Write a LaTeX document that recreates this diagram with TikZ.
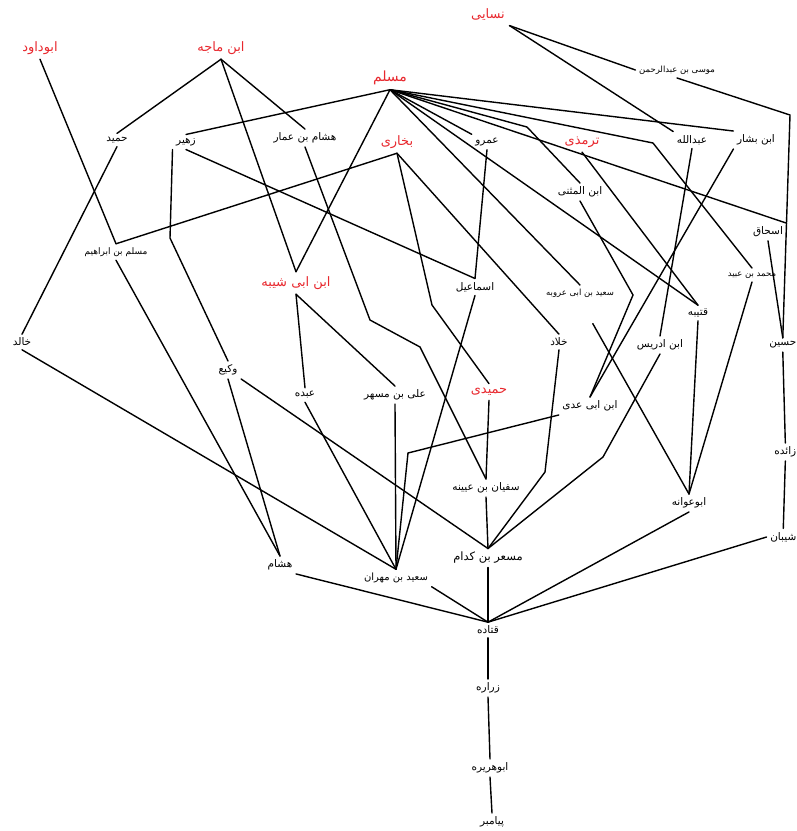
\documentclass[tikz,border=0pt]{standalone}
\usepackage{fontspec}
\usepackage{xcolor}
\usepackage{tikz}
\newfontfamily\arabicfont[Script=Arabic]{DejaVu Sans}
\TeXXeTstate=1
\definecolor{musannifred}{HTML}{E8282E}
\newcommand{\nam}[1]{\beginR#1\endR}

\begin{document}
\begin{tikzpicture}[x=1pt, y=-1pt, line width=1.4pt, line cap=round,
  rawi/.style={font=\arabicfont\fontsize{10.5}{12}\selectfont, inner sep=3pt},
  riz/.style={rawi, font=\arabicfont\fontsize{8.5}{10}\selectfont},
  musannif/.style={rawi, font=\arabicfont\fontsize{13}{15}\selectfont, text=musannifred, inner sep=4pt}]
  \useasboundingbox (0,0) rectangle (797,831);
  % Mosannefan
  \node[musannif] (nasai) at (488,15) {\nam{نسایی}};
  \node[musannif] (abudawud) at (40,48) {\nam{ابوداود}};
  \node[musannif] (ibnmajah) at (221,48) {\nam{ابن ماجه}};
  \node[musannif, font=\arabicfont\fontsize{14}{16}\selectfont] (muslim) at (390,78) {\nam{مسلم}};
  \node[musannif] (bukhari) at (397,142) {\nam{بخاری}};
  \node[musannif] (tirmidhi) at (582,142) {\nam{ترمذی}};
  \node[musannif] (ibnabishayba) at (296,283) {\nam{ابن ابی شیبه}};
  \node[musannif] (humaydi) at (489,392) {\nam{حمیدی}};
  % Raviyan
  \node[riz] (musa) at (677,70) {\nam{موسی بن عبدالرحمن}};
  \node[rawi] (humayd) at (117,140) {\nam{حمید}};
  \node[rawi] (zuhayr) at (186,142) {\nam{زهیر}};
  \node[rawi] (hishamammar) at (305,138) {\nam{هشام بن عمار}};
  \node[rawi] (amr) at (487,142) {\nam{عمرو}};
  \node[rawi] (abdullah) at (692,140) {\nam{عبدالله}};
  \node[rawi] (ibnbashshar) at (756,140) {\nam{ابن بشار}};
  \node[rawi] (ibnmuthanna) at (580,192) {\nam{ابن المثنی}};
  \node[riz, font=\arabicfont\fontsize{9}{11}\selectfont] (muslimibrahim) at (116,252) {\nam{مسلم بن ابراهیم}};
  \node[rawi] (ishaq) at (768,232) {\nam{اسحاق}};
  \node[riz] (muhammadubayd) at (752,275) {\nam{محمد بن عبید}};
  \node[rawi] (ismail) at (475,287) {\nam{اسماعیل}};
  \node[riz] (saidarubah) at (580,293) {\nam{سعید بن ابی عروبه}};
  \node[rawi] (qutayba) at (698,313) {\nam{قتیبه}};
  \node[rawi] (khalid) at (22,342) {\nam{خالد}};
  \node[rawi] (khallad) at (559,342) {\nam{خلاد}};
  \node[rawi] (ibnidris) at (660,345) {\nam{ابن ادریس}};
  \node[rawi, anchor=east] (husayn) at (800,345) {\nam{حسین}};
  \node[rawi] (waki) at (228,370) {\nam{وکیع}};
  \node[rawi] (abda) at (305,395) {\nam{عبده}};
  \node[rawi] (alimushir) at (395,395) {\nam{علی بن مسهر}};
  \node[rawi] (ibnabiadi) at (590,406) {\nam{ابن ابی عدی}};
  \node[rawi, anchor=east] (zaida) at (800,452) {\nam{زائده}};
  \node[rawi] (sufyan) at (486,488) {\nam{سفیان بن عیینه}};
  \node[rawi] (abuawana) at (689,503) {\nam{ابوعوانه}};
  \node[rawi, anchor=east] (shayban) at (800,537) {\nam{شیبان}};
  \node[rawi, font=\arabicfont\fontsize{11.5}{13}\selectfont] (misar) at (488,558) {\nam{مسعر بن کدام}};
  \node[rawi] (hisham) at (280,565) {\nam{هشام}};
  \node[riz, font=\arabicfont\fontsize{10}{12}\selectfont] (saidmihran) at (396,578) {\nam{سعید بن مهران}};
  \node[rawi] (qatada) at (488,630) {\nam{قتاده}};
  \node[rawi] (zurara) at (488,688) {\nam{زراره}};
  \node[rawi] (abuhurayra) at (490,768) {\nam{ابوهریره}};
  \node[rawi] (payambar) at (492,822) {\nam{پیامبر}};
  % Shekastha
  \coordinate (kmusa) at (790,115);
  \coordinate (kmuthanna) at (527,127);
  \coordinate (kubayd) at (653,143);
  \coordinate (khumaydi) at (432,305);
  \coordinate (kwaki) at (170,238);
  \coordinate (ksufyan1) at (370,320);
  \coordinate (ksufyan2) at (420,347);
  \coordinate (kadi) at (633,295);
  \coordinate (kidris) at (603,457);
  \coordinate (kkhallad) at (545,472);
  \coordinate (kmihran) at (408,453);
  % Nasai, Abudawud, Ibn Majah
  \draw (nasai.south east) -- (musa.west);
  \draw (nasai.south east) -- (abdullah.north west);
  \draw (musa.south) -- (kmusa) -- (husayn.north);
  \draw (abudawud.south) -- (muslimibrahim.north);
  \draw (ibnmajah.south) -- (humayd.north);
  \draw (ibnmajah.south) -- (hishamammar.north);
  \draw (ibnmajah.south) -- (ibnabishayba.north);
  % Muslim
  \draw (muslim.south) -- (zuhayr.north);
  \draw (muslim.south) -- (ibnabishayba.north);
  \draw (muslim.south) -- (amr.north west);
  \draw (muslim.south) -- (kmuthanna) -- (ibnmuthanna.north);
  \draw (muslim.south) -- (saidarubah.north);
  \draw (muslim.south) -- (qutayba.north);
  \draw (muslim.south) -- (kubayd) -- (muhammadubayd.north);
  \draw (muslim.south) -- (ibnbashshar.north west);
  \draw (muslim.south) -- (ishaq.north east);
  % Bukhari, Tirmidhi
  \draw (bukhari.south) -- (muslimibrahim.north);
  \draw (bukhari.south) -- (khumaydi) -- (humaydi.north);
  \draw (bukhari.south) -- (khallad.north);
  \draw (tirmidhi.south) -- (qutayba.north);
  % Tabaqe-ye dovvom
  \draw (amr.south) -- (ismail.north);
  \draw (zuhayr.south) -- (ismail.north);
  \draw (zuhayr.south west) -- (kwaki) -- (waki.north);
  \draw (humayd.south) -- (khalid.north);
  \draw (hishamammar.south) -- (ksufyan1) -- (ksufyan2) -- (sufyan.north);
  \draw (ibnabishayba.south) -- (abda.north);
  \draw (ibnabishayba.south) -- (alimushir.north);
  \draw (abdullah.south) -- (ibnidris.north);
  \draw (ibnbashshar.south west) -- (ibnabiadi.north);
  \draw (ibnmuthanna.south) -- (kadi) -- (ibnabiadi.north);
  \draw (ishaq.south) -- (husayn.north);
  % Tabaqe-ye sevvom
  \draw (ismail.south) -- (saidmihran.north);
  \draw[shorten <=26pt] (saidarubah.south) -- (abuawana.north);
  \draw (qutayba.south) -- (abuawana.north);
  \draw (muhammadubayd.south) -- (abuawana.north);
  \draw (ibnidris.south) -- (kidris) -- (misar.north);
  \draw (khallad.south) -- (kkhallad) -- (misar.north);
  \draw (humaydi.south) -- (sufyan.north);
  \draw (sufyan.south) -- (misar.north);
  \draw (waki.south east) -- (misar.north);
  \draw (waki.south) -- (hisham.north);
  \draw (muslimibrahim.south) -- (hisham.north);
  \draw (khalid.south) -- (saidmihran.north);
  \draw (abda.south) -- (saidmihran.north);
  \draw (alimushir.south) -- (saidmihran.north);
  \draw (ibnabiadi.south west) -- (kmihran) -- (saidmihran.north);
  \draw (husayn.south) -- (zaida.north);
  \draw (zaida.south) -- (shayban.north);
  % Qatada ta payambar
  \draw (shayban.west) -- (qatada.north);
  \draw (abuawana.south) -- (qatada.north);
  \draw (misar.south) -- (qatada.north);
  \draw (saidmihran.south east) -- (qatada.north);
  \draw (hisham.south east) -- (qatada.north);
  \draw (qatada.south) -- (zurara.north);
  \draw (zurara.south) -- (abuhurayra.north);
  \draw (abuhurayra.south) -- (payambar.north);
\end{tikzpicture}
\end{document}
